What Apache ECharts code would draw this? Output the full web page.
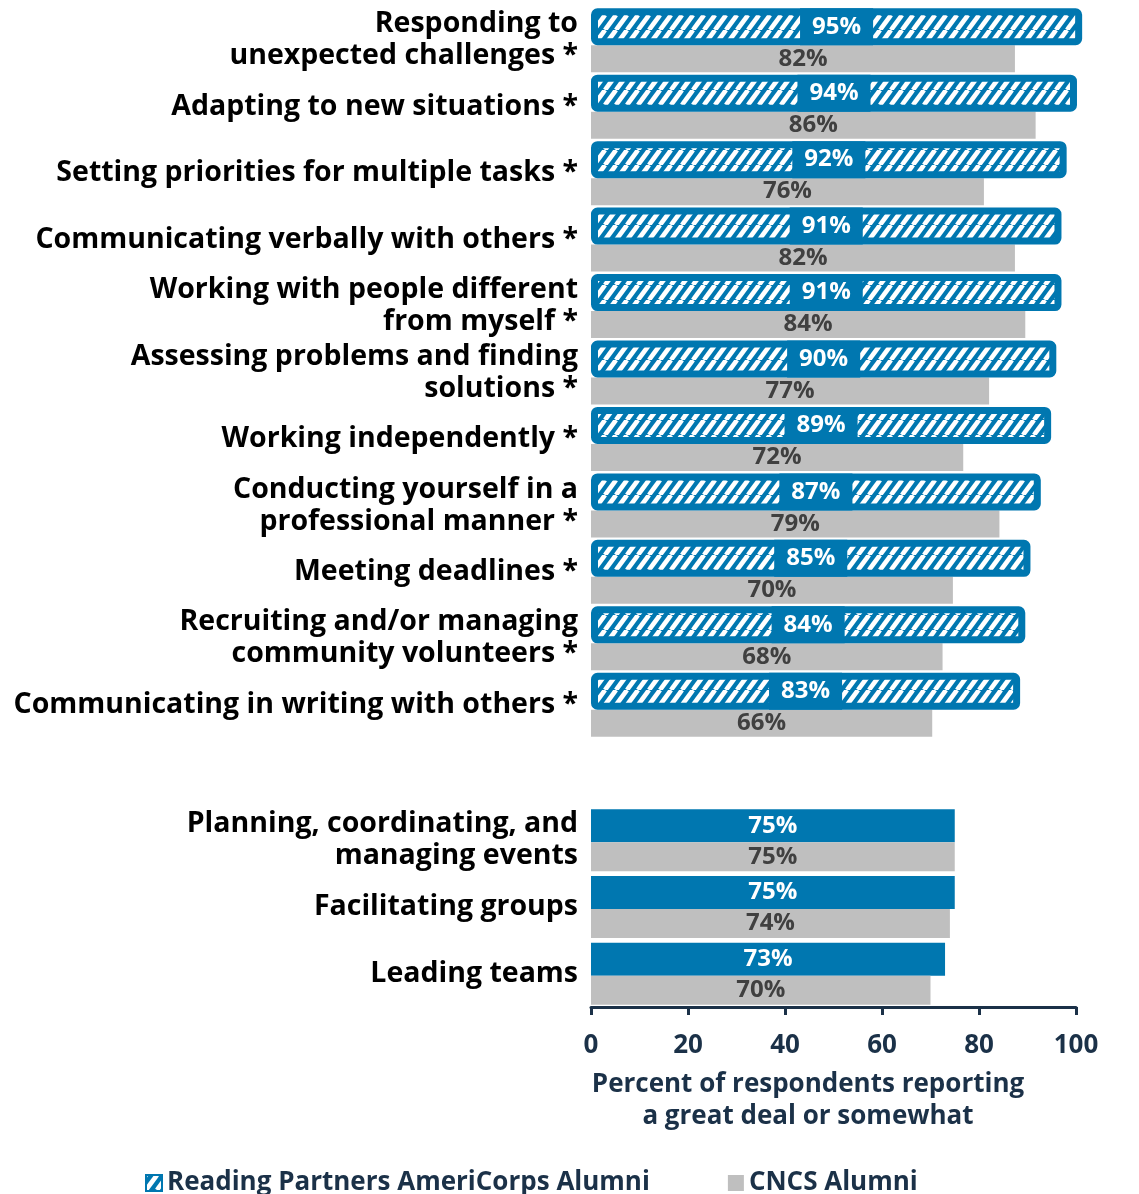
<!DOCTYPE html>
<html>
<head>
<meta charset="utf-8">
<script src="https://cdn.jsdelivr.net/npm/echarts@6/dist/echarts.min.js"></script>
<style>
html,body{margin:0;padding:0;background:#fff;}
#chart{width:1139px;height:1194px;}
</style>
</head>
<body>
<div id="chart"></div>
<script>
const topCategories = [
  'Responding to\nunexpected challenges *',
  'Adapting to new situations *',
  'Setting priorities for multiple tasks *',
  'Communicating verbally with others *',
  'Working with people different\nfrom myself *',
  'Assessing problems and finding\nsolutions *',
  'Working independently *',
  'Conducting yourself in a\nprofessional manner *',
  'Meeting deadlines *',
  'Recruiting and/or managing\ncommunity volunteers *',
  'Communicating in writing with others *'
];
const topReadingPartners = [95, 94, 92, 91, 91, 90, 89, 87, 85, 84, 83];
const topCNCS = [82, 86, 76, 82, 84, 77, 72, 79, 70, 68, 66];

const bottomCategories = [
  'Planning, coordinating, and\nmanaging events',
  'Facilitating groups',
  'Leading teams'
];
const bottomReadingPartners = [75, 75, 73];
const bottomCNCS = [75, 74, 70];

const xTickValues = [0, 20, 40, 60, 80, 100];
const seriesNames = ['Reading Partners AmeriCorps Alumni', 'CNCS Alumni'];
const axisTitle = 'Percent of respondents reporting\na great deal or somewhat';

const BLUE = '#0077b0';
const GRAY = '#bfbfbf';
const NAVY = '#1b3148';
const FONT = '"Open Sans", "DejaVu Sans", sans-serif';

function makeHatch() {
  const w = 11, h = 15;
  const c = document.createElement('canvas');
  c.width = w; c.height = h;
  const g = c.getContext('2d');
  g.fillStyle = BLUE; g.fillRect(0, 0, w, h);
  g.strokeStyle = '#ffffff'; g.lineWidth = 4.6;
  for (const dx of [-w, 0, w]) {
    g.beginPath(); g.moveTo(dx, h); g.lineTo(dx + w, 0); g.stroke();
  }
  return c;
}
const hatch = { image: makeHatch(), repeat: 'repeat' };

const chart = echarts.init(document.getElementById('chart'), null, { renderer: 'canvas' });

const catLabel = {
  fontFamily: FONT, fontWeight: 'bold', fontSize: 28.5, color: '#000',
  lineHeight: 32, align: 'right', margin: 13
};
const catLabelBottom = Object.assign({}, catLabel, { padding: [12, 0, 0, 0] });

chart.setOption({
  animation: false,
  backgroundColor: '#fff',
  textStyle: { fontFamily: FONT },
  grid: [
    { left: 591, width: 517, top: 7, height: 731, containLabel: false },
    { left: 591, width: 485, top: 807, height: 200, containLabel: false }
  ],
  xAxis: [
    { gridIndex: 0, type: 'value', min: 0, max: 100, show: false },
    {
      gridIndex: 1, type: 'value', min: 0, max: 100, interval: 20,
      axisLine: { show: true, lineStyle: { color: NAVY, width: 3 } },
      axisTick: { show: true, length: 8, lineStyle: { color: NAVY, width: 3 } },
      splitLine: { show: false },
      axisLabel: {
        fontFamily: FONT, fontWeight: 'bold', fontSize: 26, color: NAVY, margin: 26,
        formatter: v => xTickValues.includes(v) ? String(v) : ''
      }
    }
  ],
  yAxis: [
    {
      gridIndex: 0, type: 'category', inverse: true, data: topCategories,
      axisLine: { show: false }, axisTick: { show: false }, axisLabel: catLabel
    },
    {
      gridIndex: 1, type: 'category', inverse: true, data: bottomCategories,
      axisLine: { show: false }, axisTick: { show: false }, axisLabel: catLabelBottom
    }
  ],
  legend: {
    left: 140, top: 1165, itemWidth: 16, itemHeight: 16, itemGap: 78, itemTextGap: 8,
    textStyle: { fontFamily: FONT, fontWeight: 'bold', fontSize: 26, color: NAVY },
    data: [
      { name: seriesNames[0], icon: 'rect', itemStyle: { color: hatch, borderColor: BLUE, borderWidth: 2 } },
      { name: seriesNames[1], icon: 'rect', itemStyle: { color: GRAY, borderWidth: 0 } }
    ]
  },
  graphic: [
    {
      type: 'text', x: 808, y: 1069,
      style: {
        text: axisTitle, fontFamily: FONT, fontWeight: 'bold', fontSize: 26,
        fill: NAVY, lineHeight: 32, align: 'center', verticalAlign: 'top'
      }
    }
  ],
  series: [
    {
      name: seriesNames[0], type: 'bar', xAxisIndex: 0, yAxisIndex: 0, z: 3,
      data: topReadingPartners, barWidth: 37, barGap: '0%',
      itemStyle: { color: hatch, borderColor: BLUE, borderWidth: 7, borderRadius: 3 },
      label: {
        show: true, position: 'inside', formatter: '{c}%',
        fontFamily: FONT, fontWeight: 'bold', fontSize: 24, color: '#fff',
        backgroundColor: BLUE, padding: [6, 12], lineHeight: 25
      }
    },
    {
      name: seriesNames[1], type: 'bar', xAxisIndex: 0, yAxisIndex: 0, z: 2,
      data: topCNCS, barWidth: 27, barGap: '0%',
      itemStyle: { color: GRAY },
      label: {
        show: true, position: 'inside', formatter: '{c}%',
        fontFamily: FONT, fontWeight: 'bold', fontSize: 24, color: '#404040'
      }
    },
    {
      name: seriesNames[0], type: 'bar', xAxisIndex: 1, yAxisIndex: 1,
      data: bottomReadingPartners, barWidth: 33, barGap: '0%',
      itemStyle: { color: BLUE },
      label: {
        show: true, position: 'inside', formatter: '{c}%',
        fontFamily: FONT, fontWeight: 'bold', fontSize: 24, color: '#fff'
      }
    },
    {
      name: seriesNames[1], type: 'bar', xAxisIndex: 1, yAxisIndex: 1,
      data: bottomCNCS, barWidth: 29, barGap: '0%',
      itemStyle: { color: GRAY },
      label: {
        show: true, position: 'inside', formatter: '{c}%',
        fontFamily: FONT, fontWeight: 'bold', fontSize: 24, color: '#404040'
      }
    }
  ]
});
</script>
</body>
</html>
